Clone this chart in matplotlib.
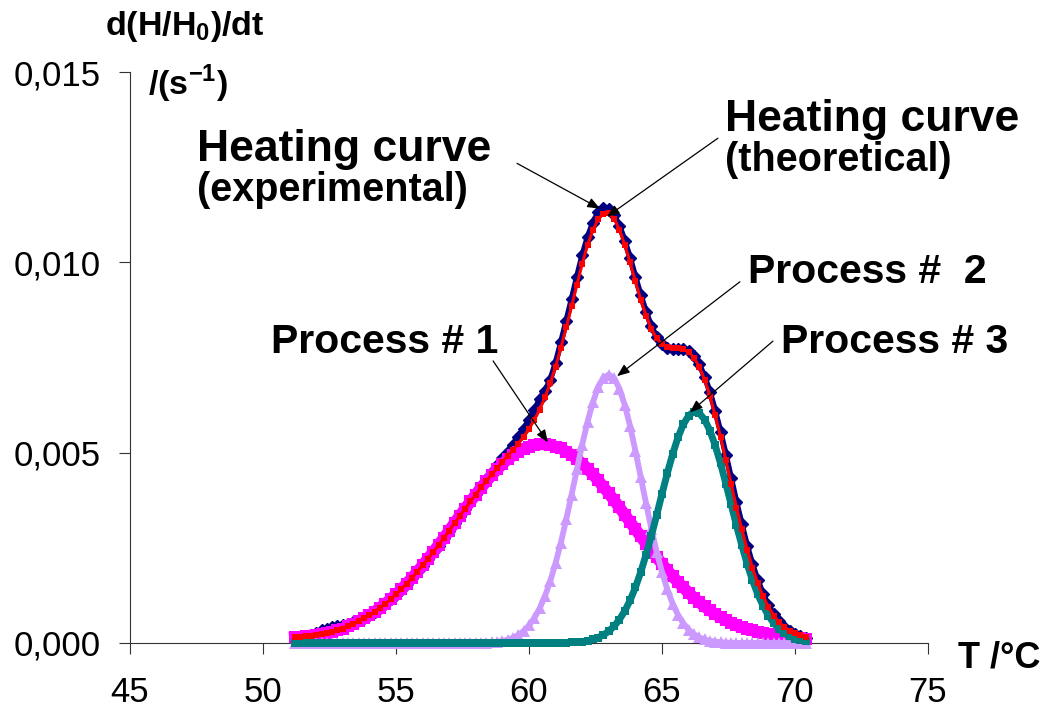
import numpy as np
import matplotlib.pyplot as plt
from matplotlib.ticker import FuncFormatter

plt.rcParams['font.family'] = ['Liberation Sans', 'DejaVu Sans']
plt.rcParams['mathtext.fontset'] = 'custom'
plt.rcParams['mathtext.rm'] = 'Liberation Sans'
plt.rcParams['mathtext.bf'] = 'Liberation Sans:bold'

# temperature, degC (sampling grid of the measurement)
T = np.round(np.linspace(51.2, 70.4, 97), 1)

# d(H/H0)/dt in units of 1e-3 s^-1
experimental = [
    0.15, 0.17, 0.19, 0.22, 0.27, 0.33, 0.38, 0.42, 0.45, 0.48,
    0.51, 0.55, 0.60, 0.66, 0.74, 0.82, 0.92, 1.03, 1.15, 1.27,
    1.40, 1.55, 1.70, 1.86, 2.03, 2.20, 2.38, 2.56, 2.75, 2.94,
    3.14, 3.33, 3.53, 3.73, 3.92, 4.12, 4.31, 4.50, 4.68, 4.86,
    5.03, 5.20, 5.40, 5.62, 5.86, 6.12, 6.40, 6.62, 6.92, 7.36,
    7.90, 8.46, 9.03, 9.62, 10.18, 10.66, 11.04, 11.32, 11.44, 11.40,
    11.24, 10.96, 10.57, 10.12, 9.62, 9.14, 8.70, 8.32, 8.04, 7.86,
    7.76, 7.72, 7.73, 7.72, 7.66, 7.54, 7.32, 7.00, 6.60, 6.10,
    5.55, 4.95, 4.33, 3.70, 3.12, 2.56, 2.07, 1.65, 1.29, 0.99,
    0.75, 0.57, 0.43, 0.32, 0.24, 0.18, 0.14]

theoretical = [
    0.15, 0.16, 0.18, 0.19, 0.21, 0.23, 0.26, 0.29, 0.33, 0.38,
    0.44, 0.50, 0.57, 0.65, 0.73, 0.82, 0.93, 1.03, 1.15, 1.28,
    1.41, 1.56, 1.71, 1.87, 2.04, 2.21, 2.39, 2.57, 2.76, 2.95,
    3.15, 3.34, 3.53, 3.72, 3.90, 4.09, 4.26, 4.43, 4.59, 4.76,
    4.92, 5.07, 5.24, 5.42, 5.62, 5.86, 6.13, 6.45, 6.83, 7.26,
    7.76, 8.29, 8.84, 9.41, 9.96, 10.45, 10.84, 11.13, 11.28, 11.29,
    11.15, 10.86, 10.46, 10.00, 9.50, 9.02, 8.60, 8.25, 8.00, 7.86,
    7.78, 7.74, 7.74, 7.72, 7.64, 7.50, 7.26, 6.92, 6.50, 5.98,
    5.42, 4.80, 4.18, 3.55, 2.99, 2.45, 1.98, 1.57, 1.23, 0.95,
    0.72, 0.55, 0.42, 0.32, 0.25, 0.20, 0.16]

process1 = [
    0.15, 0.16, 0.18, 0.19, 0.21, 0.23, 0.26, 0.29, 0.33, 0.38,
    0.44, 0.50, 0.57, 0.65, 0.73, 0.82, 0.93, 1.03, 1.15, 1.28,
    1.41, 1.56, 1.71, 1.87, 2.04, 2.21, 2.39, 2.57, 2.76, 2.95,
    3.15, 3.34, 3.53, 3.72, 3.90, 4.08, 4.25, 4.41, 4.56, 4.70,
    4.83, 4.93, 5.03, 5.10, 5.16, 5.20, 5.22, 5.22, 5.20, 5.16,
    5.11, 5.03, 4.94, 4.83, 4.71, 4.58, 4.43, 4.27, 4.10, 3.93,
    3.75, 3.56, 3.37, 3.18, 2.99, 2.80, 2.61, 2.43, 2.25, 2.08,
    1.91, 1.75, 1.60, 1.46, 1.32, 1.19, 1.07, 0.96, 0.86, 0.76,
    0.68, 0.60, 0.53, 0.46, 0.42, 0.37, 0.33, 0.29, 0.26, 0.23,
    0.20, 0.18, 0.16, 0.14, 0.13, 0.12, 0.11]

process2 = [0.0] * 30 + [
    0.0, 0.0, 0.0, 0.0, 0.004, 0.007, 0.012, 0.020, 0.033, 0.055,
    0.089, 0.139, 0.212, 0.317, 0.461, 0.655, 0.91, 1.23, 1.63, 2.10,
    2.64, 3.25, 3.89, 4.56, 5.21, 5.81, 6.32, 6.72, 6.97, 7.05,
    6.96, 6.68, 6.25, 5.70, 5.05, 4.36, 3.67, 3.00, 2.39, 1.86,
    1.41, 1.03, 0.74, 0.52, 0.35, 0.23, 0.15, 0.094, 0.057, 0.034,
    0.020, 0.012, 0.007, 0.004, 0.0, 0.0, 0.0, 0.0, 0.0, 0.0,
    0.0, 0.0, 0.0, 0.0, 0.0, 0.0, 0.0]

process3 = [0.0] * 50 + [
    0.005, 0.008, 0.014, 0.023, 0.038, 0.060, 0.094, 0.143, 0.213, 0.310,
    0.443, 0.617, 0.841, 1.12, 1.46, 1.86, 2.32, 2.82, 3.36, 3.92,
    4.46, 4.96, 5.40, 5.74, 5.97, 6.08, 6.04, 5.87, 5.58, 5.19,
    4.72, 4.19, 3.64, 3.09, 2.57, 2.08, 1.65, 1.28, 0.974, 0.722,
    0.524, 0.372, 0.258, 0.175, 0.116, 0.075, 0.048]

W, H = 1045, 710
fig = plt.figure(figsize=(W / 100, H / 100), dpi=100)
ax = fig.add_axes([130 / W, (H - 643) / H, (928 - 130) / W, (643 - 72) / H])

def y(v):
    return np.array(v) * 1e-3

ax.plot(T, y(experimental), ls='-', lw=4.2, marker='D', ms=6.2, color='#000080',
        mec='#000080', zorder=2, clip_on=False)
ax.plot(T, y(process1), ls='-', lw=8.5, marker='s', ms=8.5, color='#FF00FF',
        mew=0, zorder=3, clip_on=False)
ax.plot(T, y(process2), ls='-', lw=4.2, marker='^', ms=8, color='#CC99FF',
        mew=0, zorder=4, clip_on=False)
ax.plot(T, y(process3), ls='-', lw=5, marker='s', ms=6.2, color='#008080',
        mew=0, zorder=5, clip_on=False)
ax.plot(T, y(theoretical), ls='-', lw=2.2, marker='s', ms=4, color='#FF0000',
        mew=0, zorder=6, clip_on=False)

ax.set_xlim(45, 75)
ax.set_ylim(0, 0.015)
ax.set_xticks(np.arange(45, 76, 5))
ax.set_yticks([0, 0.005, 0.010, 0.015])
ax.yaxis.set_major_formatter(FuncFormatter(lambda v, p: ('%.3f' % v).replace('.', ',')))
for s in ['top', 'right']:
    ax.spines[s].set_visible(False)
for s in ['left', 'bottom']:
    ax.spines[s].set_color('#333333')
    ax.spines[s].set_linewidth(0.8)
ax.tick_params(axis='both', direction='out', length=8, width=0.8,
               color='#333333', labelsize=25)
ax.tick_params(axis='x', pad=16)
ax.tick_params(axis='y', pad=13)

# texts, positioned in pixels of the 1045x710 figure
def ftext(px, py, s, size, **kw):
    fig.text(px / W, 1 - py / H, s, fontsize=size, fontweight='bold',
             va='baseline', ha='left', **kw)

ftext(105, 35, r'd(H/H$_\mathbf{0}$)/dt', 24.5)
ftext(148, 95, r'/(s$^\mathbf{-1}$)', 24.5)
ftext(197, 161, 'Heating curve', 32)
ftext(197, 201, '(experimental)', 28.5)
ftext(725, 131, 'Heating curve', 32)
ftext(725, 171, '(theoretical)', 28.5)
ftext(271, 353, 'Process # 1', 29.5)
ftext(748, 283, 'Process #  2', 29.5)
ftext(781, 353, 'Process # 3', 29.5)
ftext(958, 667, 'T /\u00b0C', 26)

arrow = dict(arrowstyle='-|>,head_length=0.75,head_width=0.3', color='black',
             lw=0.9, mutation_scale=10, shrinkA=0, shrinkB=0)
annotations = [
    ((62.67, 0.01141), (59.55, 0.0126)),
    ((62.93, 0.0112), (67.10, 0.01326)),
    ((63.31, 0.00701), (67.93, 0.00949)),
    ((66.05, 0.00606), (69.17, 0.00793)),
    ((60.71, 0.00527), (58.65, 0.00741)),
]
for head, tail in annotations:
    ax.annotate('', xy=head, xytext=tail, arrowprops=arrow, zorder=10,
                annotation_clip=False)

fig.savefig('out.png', dpi=100)
